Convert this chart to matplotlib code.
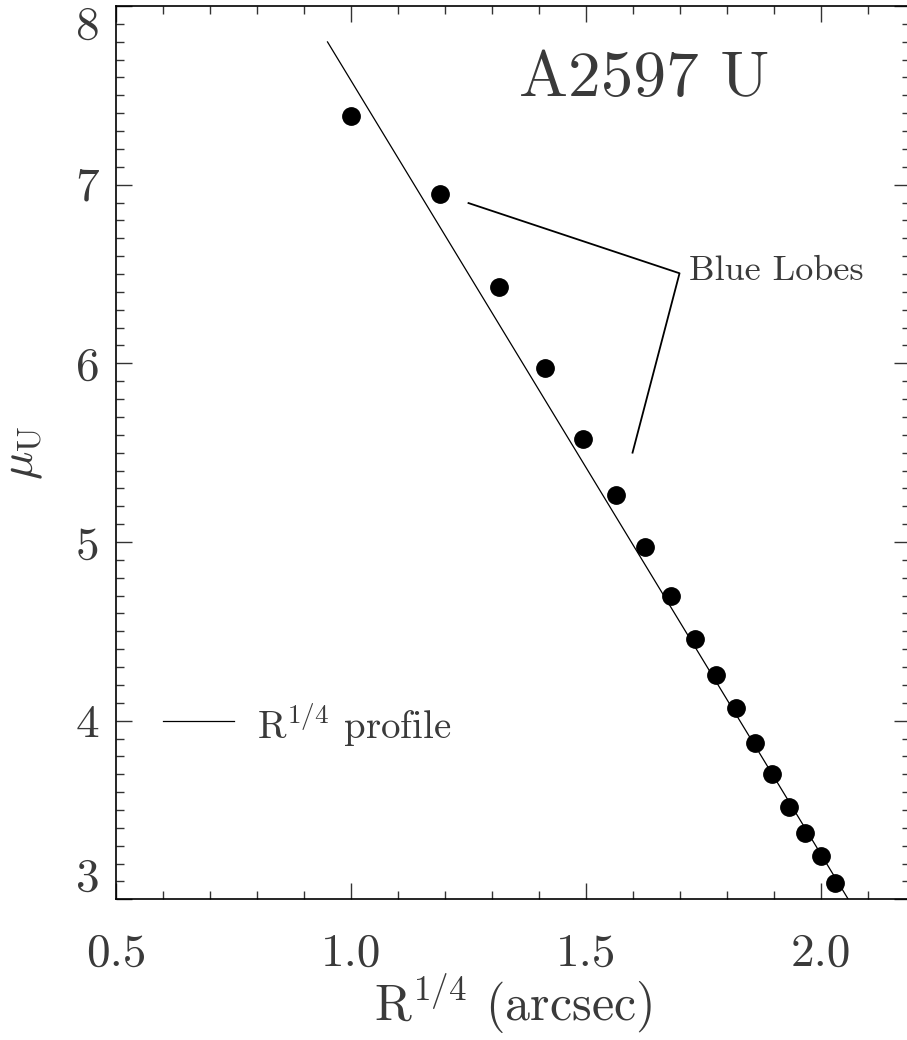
import matplotlib
matplotlib.use("Agg")
import matplotlib.pyplot as plt
from matplotlib.ticker import MultipleLocator

# Surface brightness profile of A2597 in U
r_quarter = [1.000, 1.189, 1.315, 1.413, 1.494, 1.564, 1.626, 1.680, 1.731,
             1.777, 1.819, 1.860, 1.896, 1.932, 1.966, 1.999, 2.029]
mu_u = [7.383, 6.949, 6.427, 5.974, 5.578, 5.265, 4.974, 4.698, 4.459,
        4.255, 4.073, 3.875, 3.701, 3.517, 3.369, 3.242, 3.090]

# R^1/4 law fit (straight line end points)
fit_x = [0.950, 2.080]
fit_y = [7.799, 2.905]

# "Blue Lobes" pointer (two segments meeting at the label)
lobe_x = [1.250, 1.699, 1.599]
lobe_y = [6.897, 6.504, 5.500]

# legend sample line
legend_x = [0.60, 0.75]
legend_y = [4.0, 4.0]

xticks = [0.5, 1.0, 1.5, 2.0]
xticklabels = ["0.5", "1.0", "1.5", "2.0"]
yticks = [3, 4, 5, 6, 7, 8]
yticklabels = ["3", "4", "5", "6", "7", "8"]

plt.rcParams["font.family"] = "cmr10"
plt.rcParams["mathtext.fontset"] = "cm"
plt.rcParams["axes.unicode_minus"] = False
plt.rcParams["axes.formatter.use_mathtext"] = True

txt = "#3a3a3a"

fig = plt.figure(figsize=(9.07, 10.40), dpi=100)
ax = fig.add_axes([116 / 907, 140.7 / 1040, 794.3 / 907, 893.3 / 1040])

# fit line and the data points
ax.plot(fit_x, fit_y, color="black", linewidth=0.9)
ax.plot(r_quarter, mu_u, linestyle="None", marker="o", markersize=12.5,
        color="black", zorder=3)

# pointer to the blue lobes
ax.plot(lobe_x, lobe_y, color="black", linewidth=1.3)
ax.text(1.72, 6.466, "Blue Lobes", fontsize=26, color=txt, va="baseline")

# legend
ax.plot(legend_x, legend_y, color="black", linewidth=0.9)
ax.text(0.80, 3.896, r"R$^{1/4}$ profile", fontsize=28, color=txt,
        va="baseline")

# title inside the frame
ax.text(1.623, 7.496, "A2597 U", fontsize=47, color=txt, ha="center",
        va="baseline")

ax.set_xlim(0.5, 2.19)
ax.set_ylim(3, 8)

ax.set_xticks(xticks)
ax.set_xticklabels(xticklabels)
ax.set_yticks(yticks)
ax.set_yticklabels(yticklabels)
ax.xaxis.set_minor_locator(MultipleLocator(0.1))
ax.yaxis.set_minor_locator(MultipleLocator(0.1))

ax.tick_params(which="both", direction="in", top=True, right=True,
               color="#333333", width=1.0)
ax.tick_params(which="major", length=11.5, labelsize=34, labelcolor=txt)
ax.tick_params(which="minor", length=5.8)
ax.tick_params(axis="x", which="major", pad=24)
ax.tick_params(axis="y", which="major", pad=12)

# end labels are pushed inside the axis range, like the original
yt = ax.yaxis.get_major_ticks()
yt[0].label1.set_va("bottom")
yt[-1].label1.set_va("top")

for s in ax.spines.values():
    s.set_linewidth(1.2)

ax.set_xlabel(r"R$^{1/4}$ (arcsec)", fontsize=36, color=txt)
ax.xaxis.set_label_coords(0.5, -0.1362)
ax.xaxis.label.set_va("baseline")
ax.set_ylabel(r"$\mu_{\rm U}$", fontsize=34, color=txt)
ax.yaxis.set_label_coords(-0.09, 0.5)

plt.savefig("out.png", dpi=100)
